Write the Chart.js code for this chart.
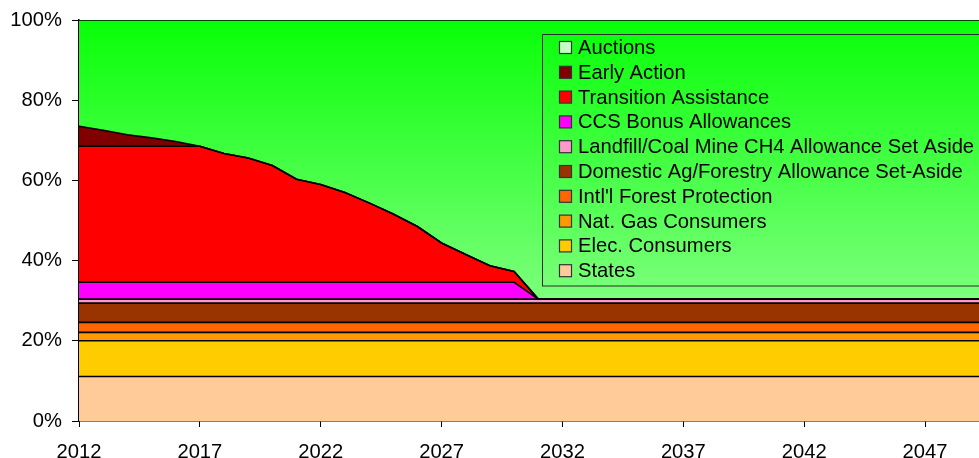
<!DOCTYPE html>
<html>
<head>
<meta charset="utf-8">
<title>Allowance allocation</title>
<script src="https://cdn.jsdelivr.net/npm/chart.js@4.4.1/dist/chart.umd.min.js"></script>
<style>
  html, body { margin: 0; padding: 0; background: #fff; overflow: hidden; }
  #wrap { width: 1000px; height: 458px; }
</style>
</head>
<body>
<div id="wrap"><canvas id="allocChart" width="1000" height="458"></canvas></div>
<script>
// years 2012 - 2050
const years = [2012, 2013, 2014, 2015, 2016, 2017, 2018, 2019, 2020, 2021,
               2022, 2023, 2024, 2025, 2026, 2027, 2028, 2029, 2030, 2031,
               2032, 2033, 2034, 2035, 2036, 2037, 2038, 2039, 2040, 2041,
               2042, 2043, 2044, 2045, 2046, 2047, 2048, 2049, 2050];

// share of allowances, percent
const states      = [11.1, 11.1, 11.1, 11.1, 11.1, 11.1, 11.1, 11.1, 11.1, 11.1, 11.1, 11.1, 11.1, 11.1, 11.1, 11.1, 11.1, 11.1, 11.1, 11.1, 11.1, 11.1, 11.1, 11.1, 11.1, 11.1, 11.1, 11.1, 11.1, 11.1, 11.1, 11.1, 11.1, 11.1, 11.1, 11.1, 11.1, 11.1, 11.1];
const elecCons    = [8.9, 8.9, 8.9, 8.9, 8.9, 8.9, 8.9, 8.9, 8.9, 8.9, 8.9, 8.9, 8.9, 8.9, 8.9, 8.9, 8.9, 8.9, 8.9, 8.9, 8.9, 8.9, 8.9, 8.9, 8.9, 8.9, 8.9, 8.9, 8.9, 8.9, 8.9, 8.9, 8.9, 8.9, 8.9, 8.9, 8.9, 8.9, 8.9];
const natGasCons  = [2.1, 2.1, 2.1, 2.1, 2.1, 2.1, 2.1, 2.1, 2.1, 2.1, 2.1, 2.1, 2.1, 2.1, 2.1, 2.1, 2.1, 2.1, 2.1, 2.1, 2.1, 2.1, 2.1, 2.1, 2.1, 2.1, 2.1, 2.1, 2.1, 2.1, 2.1, 2.1, 2.1, 2.1, 2.1, 2.1, 2.1, 2.1, 2.1];
const intlForest  = [2.5, 2.5, 2.5, 2.5, 2.5, 2.5, 2.5, 2.5, 2.5, 2.5, 2.5, 2.5, 2.5, 2.5, 2.5, 2.5, 2.5, 2.5, 2.5, 2.5, 2.5, 2.5, 2.5, 2.5, 2.5, 2.5, 2.5, 2.5, 2.5, 2.5, 2.5, 2.5, 2.5, 2.5, 2.5, 2.5, 2.5, 2.5, 2.5];
const domAgForest = [4.8, 4.8, 4.8, 4.8, 4.8, 4.8, 4.8, 4.8, 4.8, 4.8, 4.8, 4.8, 4.8, 4.8, 4.8, 4.8, 4.8, 4.8, 4.8, 4.8, 4.8, 4.8, 4.8, 4.8, 4.8, 4.8, 4.8, 4.8, 4.8, 4.8, 4.8, 4.8, 4.8, 4.8, 4.8, 4.8, 4.8, 4.8, 4.8];
const landfillCH4 = [1.0, 1.0, 1.0, 1.0, 1.0, 1.0, 1.0, 1.0, 1.0, 1.0, 1.0, 1.0, 1.0, 1.0, 1.0, 1.0, 1.0, 1.0, 1.0, 1.0, 1.0, 1.0, 1.0, 1.0, 1.0, 1.0, 1.0, 1.0, 1.0, 1.0, 1.0, 1.0, 1.0, 1.0, 1.0, 1.0, 1.0, 1.0, 1.0];
const ccsBonus    = [4.2, 4.2, 4.2, 4.2, 4.2, 4.2, 4.2, 4.2, 4.2, 4.2, 4.2, 4.2, 4.2, 4.2, 4.2, 4.2, 4.2, 4.2, 4.2, 0, 0, 0, 0, 0, 0, 0, 0, 0, 0, 0, 0, 0, 0, 0, 0, 0, 0, 0, 0];
const transition  = [33.9, 33.9, 33.9, 33.9, 33.9, 33.9, 32.1, 31.0, 29.1, 25.7, 24.4, 22.4, 19.8, 17.0, 13.9, 9.8, 6.9, 4.1, 2.7, 0, 0, 0, 0, 0, 0, 0, 0, 0, 0, 0, 0, 0, 0, 0, 0, 0, 0, 0, 0];
const earlyAction = [5.0, 4.0, 2.9, 2.1, 1.2, 0, 0, 0, 0, 0, 0, 0, 0, 0, 0, 0, 0, 0, 0, 0, 0, 0, 0, 0, 0, 0, 0, 0, 0, 0, 0, 0, 0, 0, 0, 0, 0, 0, 0];
const auctions    = [26.5, 27.5, 28.6, 29.4, 30.3, 31.5, 33.3, 34.4, 36.3, 39.7, 41.0, 43.0, 45.6, 48.4, 51.5, 55.6, 58.5, 61.3, 62.7, 69.6, 69.6, 69.6, 69.6, 69.6, 69.6, 69.6, 69.6, 69.6, 69.6, 69.6, 69.6, 69.6, 69.6, 69.6, 69.6, 69.6, 69.6, 69.6, 69.6];

const yTicks = [0, 20, 40, 60, 80, 100];

const FONT = '"Liberation Sans", Arial, Helvetica, sans-serif';
const FONT_SIZE = 20.2;

function auctionsFill(ctx) {
  const area = ctx.chart.chartArea;
  if (!area) return '#40ff40';
  const g = ctx.chart.ctx.createLinearGradient(0, area.top, 0, area.bottom);
  g.addColorStop(0, 'rgb(8,255,8)');
  g.addColorStop(1, 'rgb(175,255,175)');
  return g;
}

function series(label, data, color, swatch) {
  return {
    label: label,
    data: data,
    backgroundColor: color,
    swatch: swatch || color,
    borderColor: '#000',
    borderWidth: 1.6,
    pointRadius: 0,
    tension: 0,
    fill: '-1'
  };
}

const datasets = [
  series('States', states, '#ffcc99'),
  series('Elec. Consumers', elecCons, '#ffcc00'),
  series('Nat. Gas Consumers', natGasCons, '#ff9900'),
  series("Intl'l Forest Protection", intlForest, '#ff6600'),
  series('Domestic Ag/Forestry Allowance Set-Aside', domAgForest, '#993300'),
  series('Landfill/Coal Mine CH4 Allowance Set Aside', landfillCH4, '#ff99cc'),
  series('CCS Bonus Allowances', ccsBonus, '#ff00ff'),
  series('Transition Assistance', transition, '#ff0000'),
  series('Early Action', earlyAction, '#800000'),
  series('Auctions', auctions, auctionsFill, '#c4ffc4')
];
datasets[0].fill = 'origin';

// boxed legend inside the plot, drawn top to bottom in reverse stacking order
const boxLegend = {
  id: 'boxLegend',
  afterDraw(chart) {
    const c = chart.ctx;
    const x0 = 542.5, y0 = 34.5, w = 480, h = 251.5;
    const rowH = 24.8;
    c.save();
    c.strokeStyle = '#2a2a2a';
    c.lineWidth = 1;
    c.strokeRect(x0, y0, w, h);
    c.font = FONT_SIZE + 'px ' + FONT;
    c.textBaseline = 'middle';
    const items = chart.data.datasets.slice().reverse();
    items.forEach((ds, i) => {
      const cy = 47.5 + i * rowH;
      c.fillStyle = ds.swatch;
      c.fillRect(559.5, cy - 6, 12, 12);
      c.strokeStyle = '#333';
      c.lineWidth = 1.2;
      c.strokeRect(559.5, cy - 6, 12, 12);
      c.fillStyle = '#000';
      c.fillText(ds.label, 578, cy + 1);
    });
    c.restore();
  }
};

const config = {
  type: 'line',
  data: { labels: years, datasets: datasets },
  options: {
    responsive: false,
    animation: false,
    layout: { padding: { left: 0, right: 2.4, top: 20, bottom: 0 } },
    plugins: {
      legend: { display: false },
      tooltip: { enabled: false },
      filler: { drawTime: 'beforeDatasetsDraw' }
    },
    scales: {
      x: {
        offset: false,
        grid: {
          drawOnChartArea: false,
          drawTicks: true,
          tickLength: 6,
          tickColor: (ctx) => ((years[ctx.index] - 2012) % 5 === 0 ? '#000' : 'rgba(0,0,0,0)')
        },
        border: { color: '#000', width: 1.5 },
        ticks: {
          autoSkip: false,
          maxRotation: 0,
          padding: 13,
          color: '#000',
          font: { family: FONT, size: FONT_SIZE },
          callback: (v, i) => ((years[i] - 2012) % 5 === 0 ? String(years[i]) : '')
        },
        afterFit: (s) => {
          s.height = 37;
          s.paddingLeft = 0;
          s.paddingRight = 0;
        }
      },
      y: {
        stacked: true,
        min: 0,
        max: 100,
        afterBuildTicks: (s) => { s.ticks = yTicks.map(v => ({ value: v })); },
        grid: {
          drawOnChartArea: false,
          drawTicks: true,
          tickLength: 7,
          tickColor: '#000'
        },
        border: { color: '#000', width: 1.5 },
        ticks: {
          padding: 10,
          color: '#000',
          font: { family: FONT, size: FONT_SIZE },
          callback: (v) => v + '%'
        },
        afterFit: (s) => {
          s.width = 79;
          s.paddingTop = 0;
          s.paddingBottom = 0;
        }
      }
    }
  },
  plugins: [boxLegend]
};

new Chart(document.getElementById('allocChart').getContext('2d'), config);
</script>
</body>
</html>
